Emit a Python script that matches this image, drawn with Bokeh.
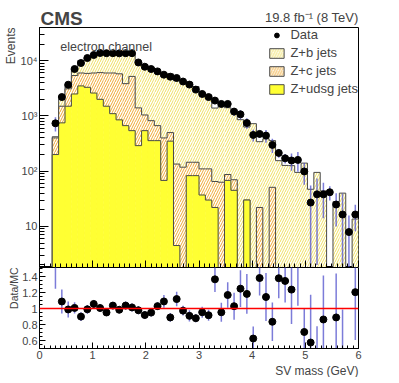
import numpy as np
from bokeh.plotting import figure
from bokeh.layouts import column
from bokeh.models import (ColumnDataSource, Range1d, Label, Title, Span, Legend, LegendItem,
                          FixedTicker, CustomJSTickFormatter, SingleIntervalTicker, LogTicker,
                          CustomLabelingPolicy)
from bokeh.embed import file_html
from bokeh.resources import INLINE

FONT = "Liberation Sans"

# ---- binning / ranges ----
x_min, x_max, n_bins = 0.0, 6.0, 50
y_min, y_max = 1.8, 4.0e4
r_min, r_max = 0.5, 1.515

# ---- stacked MC components (events per bin) ----
udsg = [0, 0, 200, 750, 1500, 2500, 3500, 3300, 2600, 2000,
        1500, 1100, 850, 668, 542, 290, 542, 357, 357, 68,
        350, 4.5, 0, 83, 83, 37, 30, 22, 0, 68,
        45, 0, 30, 0, 0, 0, 0, 0, 0, 0,
        0, 0, 0, 0, 0, 0, 0, 0, 0, 0]
charm = [0, 0, 200, 750, 1600, 2900, 2500, 2600, 3400, 4100,
         4500, 4900, 4950, 3180, 4660, 1110, 500, 465, 311, 332,
         150, 130, 118, 62, 62, 73, 80, 43, 63, 19,
         25, 0, 0, 0, 22, 0, 51, 0, 0, 0,
         0, 0, 0, 0, 0, 0, 0, 0, 0, 0]
bjets = [0, 0, 20, 520, 620, 1620, 4100, 5400, 6000, 7600,
         8400, 7200, 8000, 9350, 8300, 8100, 7430, 6630, 5550, 4730,
         5280, 4215, 4192, 3925, 3265, 2510, 2290, 1325, 1667, 1323,
         1095, 856, 600, 725, 320, 385, 307, 155, 127, 126,
         95, 140, 47, 95, 44, 0, 28, 40, 0, 13.6]

# ---- data ----
nan = float("nan")
data = [nan, nan, 735, 2200, 3680, 7080, 9090, 11200, 12700, 13800,
        13700, 13700, 13600, 13700, 13700, 9300, 7790, 7080, 6410, 5590,
        5140, 4870, 4200, 3700, 3000, 2500, 2200, 1900, 1650, 1650,
        1200, 1070, 746, 453, 473, 441, 299, 214, 171, 156,
        160, 99, 27, 38, 38, 41.5, 24.9, 16.4, 7.9, 16.4]
data_err = [nan, nan, 210, 300, 370, 490, 560, 620, 600, 690,
            650, 590, 620, 660, 675, 475, 420, 370, 310, 410,
            320, 390, 260, 285, 170, 185, 170, 220, 210, 225,
            200, 200, 160, 110, 75, 115, 86, 39, 34, 54,
            62, 42, 28, 36, 24, 12, 15, 23, 7.8, 8.2]
ratio_err = [nan, nan, 0.5, 0.15, 0.10, 0.07, 0.055, 0.055, 0.05, 0.05,
             0.045, 0.045, 0.045, 0.05, 0.05, 0.05, 0.05, 0.05, 0.05, 0.08,
             0.055, 0.09, 0.06, 0.07, 0.05, 0.07, 0.07, 0.16, 0.12, 0.16,
             0.17, 0.23, 0.25, 0.15, 0.22, 0.3, 0.24, 0.25, 0.27, 0.43,
             0.65, 0.3, 0.6, 0.38, 0.55, nan, 0.55, 0.58, nan, 0.6]

OUTLINE = "#4a4a4a"
YELLOW = "#ffff33"
B_HATCH = "#efe060"
C_HATCH = "#f0a830"
ERR = "#5050cc"

edges = np.linspace(x_min, x_max, n_bins + 1)
left, right = edges[:-1], edges[1:]
centers = 0.5 * (left + right)
u = np.array(udsg, float)
c = np.array(charm, float)
b = np.array(bjets, float)
lvl_u = u
lvl_c = u + c
lvl_b = u + c + b
floor = 1e-2

BORDER = dict(min_border_left=39, min_border_right=41)

# ---- header strip (CMS / luminosity) ----
p0 = figure(frame_width=319, frame_height=27, x_range=Range1d(x_min, x_max),
            y_range=Range1d(0, 27), output_backend="svg", toolbar_location=None,
            x_axis_location=None, y_axis_location=None,
            min_border_top=0, min_border_bottom=0, **BORDER)
p0.outline_line_color = None
p0.grid.visible = False
p0.add_layout(Label(x=0.02, y=9.5, text="CMS", text_font=FONT, text_font_style="bold",
                    text_font_size="19px", text_baseline="alphabetic"))
p0.add_layout(Label(x=6.0, y=10.3, text="19.8 fb\u207b\u00b9 (8 TeV)", text_font=FONT,
                    text_font_size="13px", text_align="right", text_baseline="alphabetic"))

p1 = figure(frame_width=319, frame_height=240, x_range=p0.x_range,
            y_range=Range1d(y_min, y_max), y_axis_type="log",
            output_backend="svg", toolbar_location=None,
            min_border_top=0, min_border_bottom=0, **BORDER)


def layer(p, lvl, **style):
    top = np.where(lvl > 0, lvl, floor)
    p.quad(left=left, right=right, bottom=np.full(n_bins, floor), top=top, **style)
    p.step(x=edges, y=np.append(top, top[-1]), mode="after", line_color=OUTLINE, line_width=1)


layer(p1, lvl_b, fill_color="white", line_color=None, hatch_pattern="/",
      hatch_color=B_HATCH, hatch_scale=5, hatch_weight=1)
layer(p1, lvl_c, fill_color="white", line_color=None, hatch_pattern="/",
      hatch_color=C_HATCH, hatch_scale=5, hatch_weight=1)
layer(p1, lvl_u, fill_color=YELLOW, line_color=YELLOW, line_width=0.5)

d = np.array(data, float)
de = np.array(data_err, float)
p1.segment(x0=centers, x1=centers, y0=np.maximum(d - de, floor), y1=d + de,
           line_color=ERR, line_alpha=0.75, line_width=1.5)
r_data = p1.scatter(x=centers, y=d, size=7, color="black")

# legend proxies (a single NaN row: nothing is drawn in the plot)
def proxy():
    return ColumnDataSource(dict(left=[nan], right=[nan], bottom=[nan], top=[nan]))

r_lb = p1.quad(left="left", right="right", bottom="bottom", top="top", source=proxy(),
               fill_color="white", hatch_pattern="/", hatch_color=B_HATCH, hatch_scale=5,
               line_color=OUTLINE)
r_lc = p1.quad(left="left", right="right", bottom="bottom", top="top", source=proxy(),
               fill_color="white", hatch_pattern="/", hatch_color=C_HATCH, hatch_scale=5,
               line_color=OUTLINE)
r_lu = p1.quad(left="left", right="right", bottom="bottom", top="top", source=proxy(),
               fill_color=YELLOW, line_color=OUTLINE)
leg = Legend(items=[LegendItem(label="Data", renderers=[r_data]),
                    LegendItem(label="Z+b jets", renderers=[r_lb]),
                    LegendItem(label="Z+c jets", renderers=[r_lc]),
                    LegendItem(label="Z+udsg jets", renderers=[r_lu])],
             location="top_right", margin=0, padding=7, spacing=3,
             glyph_width=18, glyph_height=12, label_height=13, label_standoff=5,
             label_text_font=FONT, label_text_font_size="13px",
             background_fill_alpha=0, border_line_color=None)
p1.add_layout(leg)

p1.add_layout(Label(x=0.39, y=17500, text="electron channel", text_font=FONT,
                    text_font_size="12.5px", text_baseline="alphabetic"))
p1.add_layout(Title(text="Events", align="right", text_font=FONT, text_font_size="12px",
                    text_font_style="normal", standoff=0), "left")

p1.yaxis.ticker = LogTicker(num_minor_ticks=10)
p1.yaxis.formatter = CustomJSTickFormatter(code="""
const sup = {1:'', 2:'\u00b2', 3:'\u00b3', 4:'\u2074', 5:'\u2075', 0:'\u2070'};
const e = Math.round(Math.log10(tick));
return '10' + sup[e];
""")
p1.xaxis.ticker = SingleIntervalTicker(interval=1, num_minor_ticks=10)
p1.xaxis.major_label_text_font_size = "0px"
p1.xaxis.major_label_standoff = 0
p1.xaxis.major_label_policy = CustomLabelingPolicy(code="""
for (const i of indices)
  indices.unset(i)
""")
for ax, mj, mn in ((p1.yaxis, 9, 5), (p1.xaxis, 7, 4)):
    ax.major_tick_in = mj
    ax.major_tick_out = 0
    ax.minor_tick_in = mn
    ax.minor_tick_out = 0
    ax.major_label_text_font = FONT
    ax.axis_line_color = "black"
p1.yaxis.major_label_text_font_size = "11px"
p1.yaxis.major_label_standoff = 2
p1.grid.visible = False
p1.outline_line_color = "black"

# ---- ratio panel ----
mc = lvl_b
ratio = np.where(mc > 0, d / np.where(mc > 0, mc, 1), np.nan)
re = np.array(ratio_err, float)

p2 = figure(frame_width=319, frame_height=81, x_range=p0.x_range, y_range=Range1d(r_min, r_max),
            output_backend="svg", toolbar_location=None,
            min_border_top=0, min_border_bottom=0, **BORDER)
p2.add_layout(Span(location=1.0, dimension="width", line_color="red", line_width=1.5))
p2.segment(x0=centers, x1=centers, y0=ratio - re, y1=ratio + re,
           line_color=ERR, line_alpha=0.75, line_width=1.5)
p2.scatter(x=centers, y=ratio, size=7, color="black")

p2.xaxis.ticker = SingleIntervalTicker(interval=1, num_minor_ticks=10)
p2.yaxis.ticker = FixedTicker(ticks=[0.6, 0.8, 1.0, 1.2, 1.4],
                              minor_ticks=[round(v, 2) for v in np.arange(0.5, 1.5001, 0.05)])
p2.yaxis.formatter = CustomJSTickFormatter(code="return String(Math.round(tick*10)/10);")
for ax, mj, mn in ((p2.yaxis, 6, 3), (p2.xaxis, 6, 3)):
    ax.major_tick_in = mj
    ax.major_tick_out = 0
    ax.minor_tick_in = mn
    ax.minor_tick_out = 0
    ax.major_label_text_font = FONT
    ax.major_label_text_font_size = "11px"
    ax.major_label_standoff = 2
    ax.axis_line_color = "black"
p2.add_layout(Title(text="Data/MC", align="right", text_font=FONT, text_font_size="10.5px",
                    text_font_style="normal", standoff=0), "left")
p2.add_layout(Title(text="SV mass (GeV)", align="right", text_font=FONT, text_font_size="12px",
                    text_font_style="normal", standoff=0), "below")
p2.grid.visible = False
p2.outline_line_color = "black"

layout = column(p0, p1, p2, spacing=0)
open("out.html", "w").write(file_html(layout, INLINE))
